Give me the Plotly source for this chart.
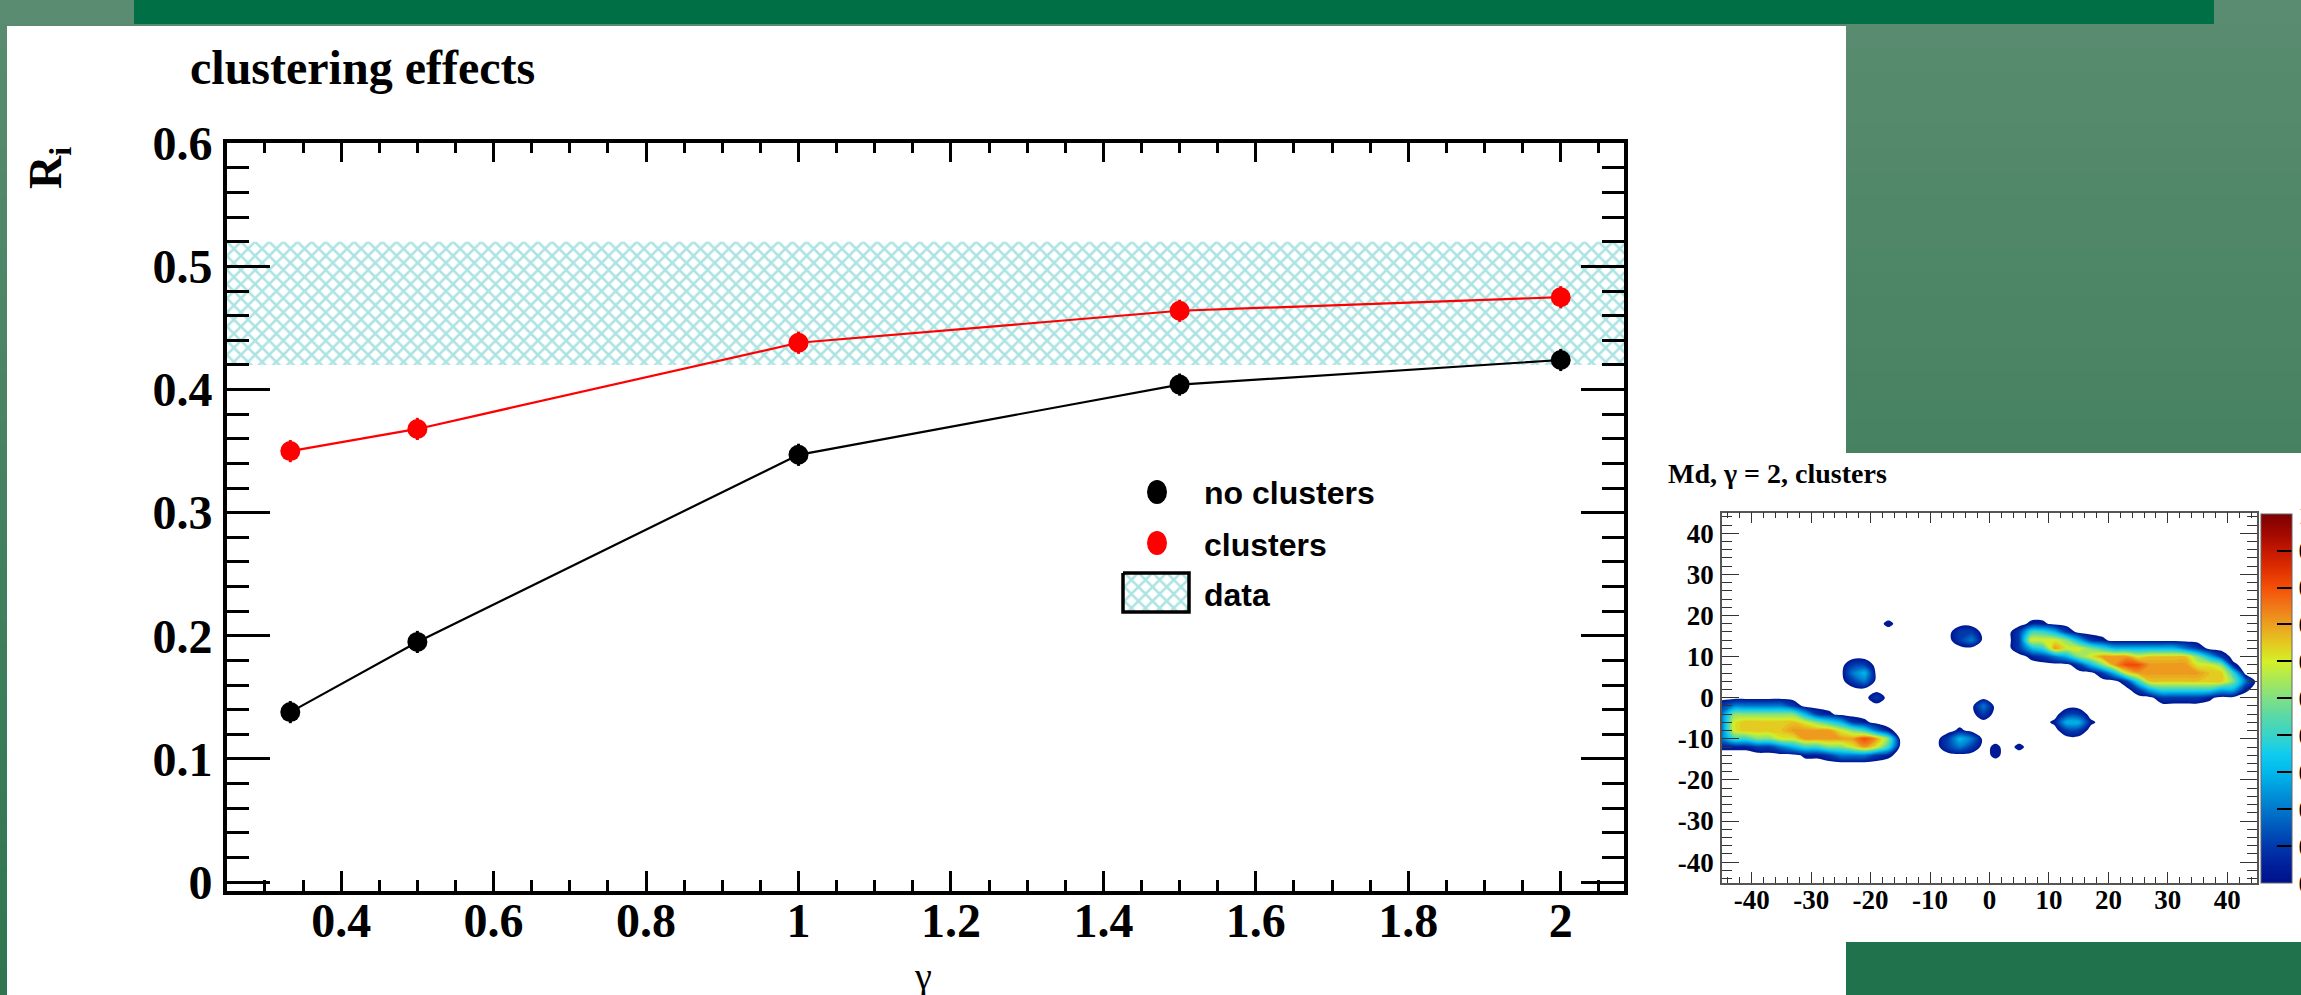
import plotly.graph_objects as go

FIG_W, FIG_H = 2301, 995

# ---------------- data ----------------
GAMMA = [1 / 3, 0.5, 1.0, 1.5, 2.0]
R_NO_CLUSTERS = [0.138, 0.195, 0.347, 0.404, 0.424]
R_CLUSTERS = [0.350, 0.368, 0.438, 0.464, 0.475]
R_NO_CLUSTERS_ERR = [0.009, 0.009, 0.009, 0.009, 0.009]
R_CLUSTERS_ERR = [0.009, 0.009, 0.009, 0.009, 0.009]
DATA_BAND = [0.42, 0.52]          # measured R_i band (low, high)
LEGEND_LABELS = ["no clusters", "clusters", "data"]

X_RANGE = [0.25, 2.083]
Y_RANGE = [-0.0073, 0.6005]

HEAT_X = [-45, -43, -41, -39, -37, -35, -33, -31, -29, -27, -25, -23, -21, -19, -17, -15,
          -13, -11, -9, -7, -5, -3, -1, 1, 3, 5, 7, 9, 11, 13, 15, 17, 19, 21, 23, 25,
          27, 29, 31, 33, 35, 37, 39, 41, 43, 45]
HEAT_Y = [20, 18, 16, 14, 12, 10, 8, 6, 4, 2, 0, -2, -4, -6, -8, -10, -12, -14, -16]
HEAT_ROWS = [
    ".........." + ".........." + ".........." + ".........." + "......",   # 20
    ".........." + "....a....." + "......aa.." + ".........." + "......",   # 18
    ".........." + ".........." + "11...14431" + ".........." + "......",   # 16
    ".........." + ".........." + "12...16665" + "31a......." + "......",   # 14
    ".........." + ".........." + ".....13476" + "6543333332" + "1.....",   # 12
    ".........." + ".........." + "......a123" + "567776gggg" + "531...",   # 10
    ".........." + ".11......." + ".........." + "1357887777" + "665a..",   # 8
    ".........." + ".23......." + ".........." + "..13677777" + "7gg4..",   # 6
    ".........." + ".12......." + ".........." + "....14gggg" + "ggg52.",   # 4
    ".........." + ".........." + ".........." + ".....13444" + "4433a.",   # 2
    ".........." + "...1......" + ".........." + ".......111" + "1a....",   # 0
    "1222221..." + ".........." + "..2......." + ".........." + "......",   # -2
    "255555531a" + ".........." + "..1......1" + "1........." + "......",   # -4
    "26ggggg654" + "31a......." + "........a3" + "3a........" + "......",   # -6
    "26gggg7777" + "6542a....." + "a........1" + "1........." + "......",   # -8
    "2445566777" + "77875....1" + "32........" + ".........." + "......",   # -10
    "aaa1123445" + "56764....1" + "21.a.a...." + ".........." + "......",   # -12
    ".......aa1" + "2221a....." + "...a......" + ".........." + "......",   # -14
    ".........." + ".........." + ".........." + ".........." + "......",   # -16
]
HEAT_LEVELS = {".": 0.0, "a": 0.05, "1": 0.1, "2": 0.2, "3": 0.3, "4": 0.4, "5": 0.5,
               "6": 0.6, "g": 0.65, "7": 0.7, "8": 0.8, "9": 0.9}
INSET_TICKS = [-40, -30, -20, -10, 0, 10, 20, 30, 40]
CBAR_TICKS = [0, 0.1, 0.2, 0.3, 0.4, 0.5, 0.6, 0.7, 0.8, 0.9, 1.0]

# ROOT-like rainbow palette
PALETTE_Z = [0.00, 0.05, 0.10, 0.15, 0.20, 0.25, 0.30, 0.35, 0.40, 0.45, 0.50,
             0.55, 0.60, 0.65, 0.70, 0.75, 0.80, 0.85, 0.90, 0.95, 1.00]
PALETTE_C = ["#00108c", "#00209c", "#0038ac", "#0058bc", "#0078cc", "#0098dc", "#00b8ec",
             "#10ccf0", "#38d4c8", "#58d8a8", "#80e084", "#a8e858", "#d4f028", "#e4c820",
             "#eca020", "#f07818", "#f45008", "#e03000", "#c41800", "#a00800", "#7c0000"]

# ---------------- helpers / styles ----------------
def px(x):
    return x / FIG_W


def py(y):
    return 1 - y / FIG_H


SERIF = "Liberation Serif"
SANS = "Liberation Sans"
RED = "#ff0000"
HATCH = "#5cc8c8"

heat_z = [[HEAT_LEVELS[ch] for ch in row] for row in HEAT_ROWS][::-1]
heat_y = HEAT_Y[::-1]

C_START, C_END, C_SIZE = 0.03, 1.0, 0.02
lo = C_START - C_SIZE / 2
span = (C_END + C_SIZE / 2) - lo
contour_scale = [[0.0, "white"], [0.008, "white"], [0.0081, PALETTE_C[0]]]
for z, c in zip(PALETTE_Z, PALETTE_C):
    f = (z - lo) / span
    if f > 0.0081:
        contour_scale.append([f, c])
contour_scale.append([1.0, PALETTE_C[-1]])
cbar_scale = [[z, c] for z, c in zip(PALETTE_Z, PALETTE_C)]

fig = go.Figure()

# data band (hatched)
fig.add_trace(go.Scatter(
    x=[X_RANGE[0], X_RANGE[1], X_RANGE[1], X_RANGE[0], X_RANGE[0]],
    y=[DATA_BAND[0], DATA_BAND[0], DATA_BAND[1], DATA_BAND[1], DATA_BAND[0]],
    fill="toself", fillcolor="rgba(0,0,0,0)", mode="lines", line=dict(width=0),
    fillpattern=dict(shape="x", fgcolor=HATCH, bgcolor="rgba(0,0,0,0)", size=10, solidity=0.45),
    xaxis="x", yaxis="y", showlegend=False, hoverinfo="skip"))

for yv, err, col in [(R_NO_CLUSTERS, R_NO_CLUSTERS_ERR, "black"), (R_CLUSTERS, R_CLUSTERS_ERR, RED)]:
    fig.add_trace(go.Scatter(
        x=GAMMA, y=yv, mode="lines+markers",
        line=dict(color=col, width=2.2),
        marker=dict(color=col, size=20, symbol="circle"),
        error_y=dict(type="data", array=err, color=col, thickness=3, width=0),
        xaxis="x", yaxis="y", showlegend=False))

# inset map
fig.add_trace(go.Contour(
    x=HEAT_X, y=heat_y, z=heat_z, xaxis="x2", yaxis="y2",
    autocontour=False,
    contours=dict(start=C_START, end=C_END, size=C_SIZE, coloring="fill", showlines=False),
    line=dict(width=0, smoothing=1.0),
    colorscale=contour_scale, showscale=False, hoverinfo="skip"))

# colour bar of the inset
fig.add_trace(go.Scatter(
    x=[None], y=[None], xaxis="x2", yaxis="y2", mode="markers",
    marker=dict(color=[0.5], cmin=0, cmax=1, colorscale=cbar_scale, showscale=True,
                colorbar=dict(x=px(2261), xanchor="left", y=py(882.7), yanchor="bottom",
                              len=369, lenmode="pixels", thickness=31, thicknessmode="pixels",
                              xpad=0, ypad=0, outlinewidth=1, outlinecolor="#666",
                              ticks="inside", ticklen=15, tickwidth=1.5, tickcolor="black",
                              tickvals=CBAR_TICKS,
                              tickfont=dict(family=SERIF, size=28, color="black", weight=700))),
    showlegend=False, hoverinfo="skip"))

# legend key box (pixel overlay)
LEG_BOX_X = [1123, 1189, 1189, 1123, 1123]
LEG_BOX_Y = [573, 573, 612, 612, 573]
fig.add_trace(go.Scatter(
    x=LEG_BOX_X, y=LEG_BOX_Y, xaxis="x3", yaxis="y3", mode="lines",
    fill="toself", fillcolor="rgba(0,0,0,0)", line=dict(color="black", width=3.5),
    fillpattern=dict(shape="x", fgcolor=HATCH, bgcolor="white", size=10, solidity=0.45),
    showlegend=False, hoverinfo="skip"))

# ---------------- background panels ----------------
shapes = []
TOP_RGB = (90, 140, 112)
BOT_RGB = (46, 118, 80)
N_BANDS = 40
for k in range(N_BANDS):
    t = (k + 0.5) / N_BANDS
    c = tuple(round(a + (b - a) * t) for a, b in zip(TOP_RGB, BOT_RGB))
    shapes.append(dict(type="rect", xref="paper", yref="paper", x0=0, x1=1,
                       y0=max(0, 1 - (k + 1) / N_BANDS - 0.002), y1=min(1, 1 - k / N_BANDS + 0.002),
                       fillcolor="rgb(%d,%d,%d)" % c, line=dict(width=0), layer="below"))
shapes += [
    dict(type="rect", xref="paper", yref="paper", x0=px(134), x1=px(2214), y0=py(24), y1=1,
         fillcolor="#006f46", line=dict(width=0), layer="below"),
    dict(type="rect", xref="paper", yref="paper", x0=px(7), x1=px(1846), y0=0, y1=py(26),
         fillcolor="white", line=dict(width=0), layer="below"),
    dict(type="rect", xref="paper", yref="paper", x0=px(1846), x1=1, y0=py(942), y1=py(453),
         fillcolor="white", line=dict(width=0), layer="below"),
    dict(type="rect", xref="paper", yref="paper", x0=px(1846), x1=1, y0=0, y1=py(942),
         fillcolor="#20724d", line=dict(width=0), layer="below"),
]
# legend markers
for (cx, cy, col) in [(1157, 492, "black"), (1157, 543, RED)]:
    shapes.append(dict(type="circle", xref="paper", yref="paper", xsizemode="pixel",
                       ysizemode="pixel", xanchor=px(cx), yanchor=py(cy),
                       x0=-10, x1=10, y0=-12, y1=12, fillcolor=col, line=dict(width=0)))

# ---------------- annotations ----------------
ann = [
    dict(text="clustering effects", x=px(188), y=py(67), xanchor="left", yanchor="middle",
         font=dict(family=SERIF, size=48, color="black", weight=700)),
    dict(text="R<sub>i</sub>", x=px(49), y=py(168), xanchor="center", yanchor="middle",
         textangle=-90, font=dict(family=SERIF, size=46, color="black", weight=700)),
    dict(text="γ", x=px(923), y=py(976), xanchor="center", yanchor="middle",
         font=dict(family=SERIF, size=38, color="black")),
    dict(text="Md, γ = 2, clusters", x=px(1666), y=py(474), xanchor="left", yanchor="middle",
         font=dict(family=SERIF, size=28, color="black", weight=700)),
]
for lab, cy in zip(LEGEND_LABELS, [493, 545, 595]):
    ann.append(dict(text=lab, x=px(1202), y=py(cy), xanchor="left", yanchor="middle",
                    font=dict(family=SANS, size=32, color="black", weight=700)))
for a in ann:
    a.update(xref="paper", yref="paper", showarrow=False)

tick_font_main = dict(family=SERIF, size=48, color="black", weight=700)
tick_font_inset = dict(family=SERIF, size=27, color="black", weight=700)

fig.update_layout(
    width=FIG_W, height=FIG_H,
    margin=dict(l=0, r=0, t=0, b=0, autoexpand=False),
    paper_bgcolor="#4a7f60", plot_bgcolor="rgba(0,0,0,0)",
    showlegend=False, shapes=shapes, annotations=ann,
    xaxis=dict(domain=[px(226.8), px(1624)], range=X_RANGE, anchor="y",
               showline=True, linewidth=3.5, linecolor="black", mirror="ticks",
               ticks="inside", ticklen=20, tickwidth=3, tickcolor="black",
               tick0=0, dtick=0.2, tickfont=tick_font_main, ticklabelstandoff=-15,
               minor=dict(ticks="inside", ticklen=11, tickwidth=3, tickcolor="black", dtick=0.05, tick0=0),
               showgrid=False, zeroline=False),
    yaxis=dict(domain=[py(891), py(142.7)], range=Y_RANGE, anchor="x",
               showline=True, linewidth=3.5, linecolor="black", mirror="ticks",
               ticks="inside", ticklen=43, tickwidth=3, tickcolor="black",
               tick0=0, dtick=0.1, tickfont=tick_font_main, ticklabelstandoff=1,
               minor=dict(ticks="inside", ticklen=22, tickwidth=3, tickcolor="black", dtick=0.02, tick0=0),
               showgrid=False, zeroline=False),
    xaxis2=dict(domain=[px(1722), px(2257)], range=[-45, 45], anchor="y2",
                showline=True, linewidth=1.5, linecolor="#555", mirror="ticks",
                ticks="inside", ticklen=11, tickwidth=1.2, tickcolor="#333",
                tickvals=INSET_TICKS, ticktext=[str(v) for v in INSET_TICKS],
                tickfont=tick_font_inset, ticklabelstandoff=-8,
                minor=dict(ticks="inside", ticklen=6, tickwidth=1, tickcolor="#333", dtick=2, tick0=0),
                showgrid=False, zeroline=False),
    yaxis2=dict(domain=[py(882.7), py(512.7)], range=[-45, 45], anchor="x2",
                showline=True, linewidth=1.5, linecolor="#555", mirror="ticks",
                ticks="inside", ticklen=17, tickwidth=1.2, tickcolor="#333",
                tickvals=INSET_TICKS, ticktext=[str(v) for v in INSET_TICKS],
                tickfont=tick_font_inset, ticklabelstandoff=1,
                minor=dict(ticks="inside", ticklen=10, tickwidth=1, tickcolor="#333", dtick=2, tick0=0),
                showgrid=False, zeroline=False),
    xaxis3=dict(domain=[0, 1], range=[0, FIG_W], anchor="y3", visible=False, fixedrange=True),
    yaxis3=dict(domain=[0, 1], range=[FIG_H, 0], anchor="x3", visible=False, fixedrange=True),
)

fig.write_html("out.html")
